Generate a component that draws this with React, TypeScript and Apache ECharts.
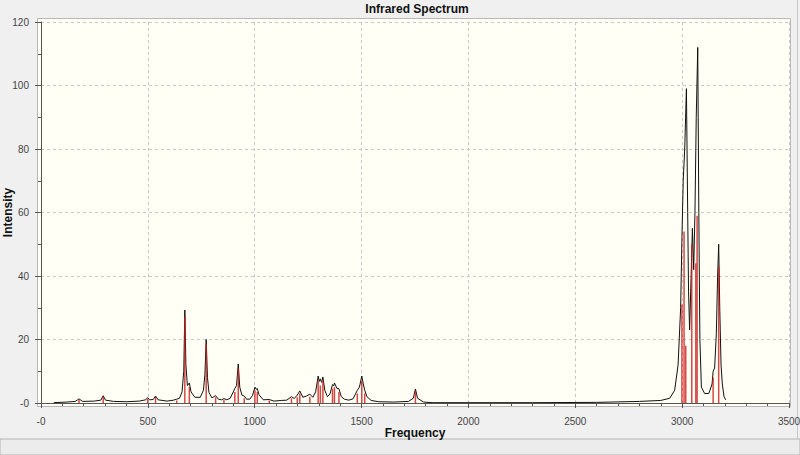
import React, { useEffect, useRef } from "react";
import * as echarts from "echarts";

const chartTitle = "Infrared Spectrum";
const xAxisName = "Frequency";
const yAxisName = "Intensity";

// Computed stick spectrum (frequency, intensity)
const stickFreq = [178, 291, 499, 536, 635, 673, 694, 773, 817, 856, 907, 923, 951, 1001, 1012, 1068, 1172, 1199, 1211, 1258, 1297, 1307, 1319, 1364, 1373, 1394, 1480, 1501, 1515, 1752, 2999, 3009, 3017, 3045, 3064, 3070, 3145, 3171];
const stickInt = [1.0, 2.0, 1.4, 1.9, 0.8, 27, 5, 18.5, 1.8, 1, 3.5, 11, 1.5, 4, 3.5, 0.8, 1.5, 1.8, 3, 2, 7, 5.5, 7, 4.5, 5, 3.5, 3, 7, 3, 3.8, 31, 54, 18, 50, 44, 59, 8, 43];

// Broadened spectrum (frequency, intensity)
const curveFreq = [60, 120, 160, 178, 195, 250, 280, 291, 302, 340, 400, 460, 490, 499, 508, 525, 536, 548, 590, 620, 635, 648, 660, 668, 673, 678, 685, 694, 702, 720, 745, 760, 767, 773, 779, 786, 800, 817, 830, 845, 856, 870, 885, 900, 907, 915, 923, 930, 940, 951, 962, 977, 990, 1001, 1007, 1012, 1020, 1040, 1068, 1090, 1124, 1150, 1172, 1185, 1199, 1211, 1225, 1243, 1258, 1272, 1285, 1297, 1302, 1307, 1313, 1319, 1328, 1340, 1352, 1364, 1370, 1373, 1385, 1394, 1405, 1420, 1440, 1460, 1480, 1490, 1501, 1508, 1515, 1525, 1545, 1580, 1650, 1720, 1742, 1752, 1762, 1790, 1830, 2300, 2600, 2800, 2900, 2942, 2965, 2981, 2993, 2999, 3005, 3012, 3020, 3026, 3030, 3035, 3042, 3048, 3054, 3060, 3066, 3073, 3078, 3083, 3090, 3105, 3125, 3140, 3145, 3152, 3160, 3166, 3171, 3176, 3182, 3188, 3196, 3204];
const curveInt = [0.1, 0.3, 0.5, 1.3, 0.5, 0.6, 0.9, 2.3, 0.9, 0.5, 0.4, 0.6, 1.0, 1.7, 1.0, 1.1, 2.2, 1.0, 0.6, 0.9, 1.2, 1.5, 3.5, 10, 29.3, 12, 5.5, 6.3, 3.5, 1.8, 1.8, 4, 9, 20, 8, 3.3, 1.6, 2.3, 1.2, 1.0, 1.4, 1.0, 1.5, 3.5, 4.6, 5.5, 12.3, 5, 2.5, 2.2, 1.2, 1.2, 2.4, 5, 4.3, 4.6, 2.6, 1.0, 1.1, 0.6, 0.8, 0.9, 2.0, 1.4, 2.5, 3.8, 1.8, 2.2, 2.8, 1.8, 3.5, 8.5, 6.8, 7.6, 6.5, 8.2, 4, 2.0, 2.8, 5.8, 5.4, 6.3, 4.6, 4.5, 2.0, 1.2, 0.9, 1.3, 4, 5, 8.5, 6, 4, 2, 0.8, 0.4, 0.3, 0.5, 1.5, 4.4, 1.5, 0.3, 0.1, 0.1, 0.2, 0.5, 0.8, 1.5, 4, 12, 30, 52, 70, 80, 99, 60, 35, 23, 40, 55, 42, 60, 90, 112, 60, 20, 5, 3, 3, 6, 10, 11, 22, 40, 50, 30, 12, 6, 2, 1];

const xTicks = { min: 0, max: 3500, interval: 500 };
const yTicks = { min: 0, max: 120, interval: 20 };

const FONT = "'Liberation Sans', Arial, sans-serif";

export default function App() {
  const ref = useRef<HTMLDivElement>(null);

  useEffect(() => {
    if (!ref.current) return;
    const chart = echarts.init(ref.current, null, { renderer: "svg" });
    const sticks = stickFreq.map((f, i) => [f, stickInt[i]]);
    const curve = curveFreq.map((f, i) => [f, curveInt[i]]);
    const zeroFmt = (v: number) => (v === 0 ? "-0" : String(v));

    chart.setOption({
      animation: false,
      backgroundColor: "#f0f0f0",
      graphic: [
        {
          type: "rect",
          z: -10,
          silent: true,
          shape: { x: 0, y: 439, width: 800, height: 16 },
          style: { fill: "#ececec", stroke: "#b4b4b4", lineWidth: 1 },
        },
        {
          type: "line",
          z: -10,
          silent: true,
          shape: { x1: 797.5, y1: 0, x2: 797.5, y2: 439 },
          style: { stroke: "#c8c8c8", lineWidth: 1 },
        },
        {
          type: "rect",
          z: -10,
          silent: true,
          shape: { x: 37.5, y: 18.5, width: 753, height: 388 },
          style: { fill: "#fffff5", stroke: "#b8b8b8", lineWidth: 1 },
        },
        {
          type: "text",
          x: 417,
          y: 9,
          style: {
            text: chartTitle,
            font: `bold 12px ${FONT}`,
            fill: "#111",
            textAlign: "center",
            textVerticalAlign: "middle",
          },
        },
      ],
      grid: { left: 41, right: 11, top: 22, bottom: 52, containLabel: false, outerBoundsMode: "none" },
      xAxis: {
        type: "value",
        min: xTicks.min,
        max: xTicks.max,
        interval: xTicks.interval,
        offset: 7,
        name: xAxisName,
        nameLocation: "middle",
        nameGap: 17,
        nameMoveOverlap: false,
        nameTextStyle: { fontFamily: FONT, fontWeight: "bold", fontSize: 12, color: "#111" },
        axisLine: { show: true, lineStyle: { color: "#555", width: 1 } },
        axisTick: { show: true, length: 5, lineStyle: { color: "#555" } },
        minorTick: { show: true, splitNumber: 5, length: 3, lineStyle: { color: "#555" } },
        axisLabel: { formatter: zeroFmt, margin: 6, fontFamily: FONT, fontSize: 10, color: "#444" },
        splitLine: { show: true, lineStyle: { color: "#c8c8c8", type: [3, 3], width: 1 } },
        minorSplitLine: { show: false },
      },
      yAxis: {
        type: "value",
        min: yTicks.min,
        max: yTicks.max,
        interval: yTicks.interval,
        offset: 6,
        name: yAxisName,
        nameLocation: "middle",
        nameGap: 21,
        nameMoveOverlap: false,
        nameTextStyle: { fontFamily: FONT, fontWeight: "bold", fontSize: 12, color: "#111" },
        axisLine: { show: true, lineStyle: { color: "#555", width: 1 } },
        axisTick: { show: true, length: 6, lineStyle: { color: "#555" } },
        minorTick: { show: true, splitNumber: 2, length: 3, lineStyle: { color: "#555" } },
        axisLabel: { formatter: zeroFmt, margin: 6, fontFamily: FONT, fontSize: 10, color: "#444" },
        splitLine: { show: true, lineStyle: { color: "#c8c8c8", type: [3, 3], width: 1 } },
      },
      series: [
        {
          type: "line",
          data: curve,
          showSymbol: false,
          symbol: "none",
          lineStyle: { color: "#111", width: 1 },
          z: 3,
        },
        {
          type: "custom",
          data: sticks,
          encode: { x: 0, y: 1 },
          z: 4,
          renderItem: (_params: any, api: any) => {
            const f = api.value(0);
            const v = api.value(1);
            const p0 = api.coord([f, 0]);
            const p1 = api.coord([f, v]);
            return {
              type: "line",
              shape: { x1: p0[0], y1: p0[1], x2: p1[0], y2: p1[1] },
              style: { stroke: "#cc1a1a", lineWidth: 1.5, opacity: 0.8 },
            };
          },
        },
      ],
    });
    return () => chart.dispose();
  }, []);

  return (
    <div
      ref={ref}
      style={{ position: "fixed", left: 0, top: 0, width: 800, height: 455 }}
    />
  );
}
